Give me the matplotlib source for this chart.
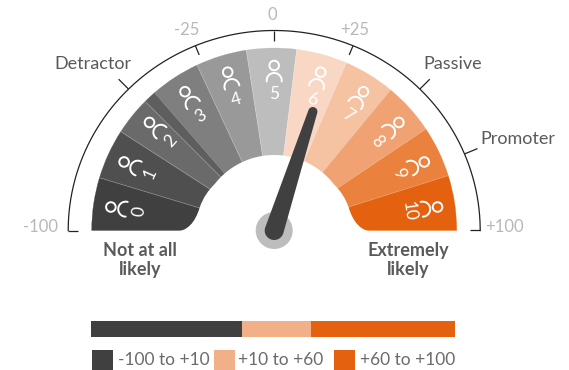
import numpy as np
import matplotlib
matplotlib.use("Agg")
import matplotlib.pyplot as plt
from matplotlib.patches import Wedge, Circle, Polygon, PathPatch, Rectangle
from matplotlib.path import Path

plt.rcParams['font.family'] = ['Lato', 'DejaVu Sans']

# gauge segments, edges in degrees clockwise from the left end
scores = ["0", "1", "2", "3", "4", "5", "6", "7", "8", "9", "10"]
seg_edges = [0, 16.8, 32.8, 45, 49, 65, 81.2, 97.1, 113.3, 129.6, 146.2, 162.5, 180]
seg_colors = ["#404040", "#4f4f4f", "#6a6a6a", "#5e5e5e", "#7f7f7f", "#999999", "#bdbdbd",
              "#f8d8c4", "#f5c2a2", "#f0a273", "#ea823e", "#e3610f"]

# scale around the rim: value, label, tick direction
tick_values = [-100, -50, -25, 0, 25, 50, 75, 100]
tick_labels = ["-100", "Detractor", "-25", "0", "+25", "Passive", "Promoter", "+100"]
needle_value = 20

bar_widths = [151, 69, 144]
bar_colors = ["#404040", "#f2b088", "#e3610f"]
legend_labels = ["-100 to +10", "+10 to +60", "+60 to +100"]

cx, cy = 274.2, 230.5
R_fan, R_hole = 182.5, 75.5
rx_ring, ry_ring = 206, 200
GREY = "#b8b8b8"
DARK = "#5a5a5a"


def polar(r, a):
    a = np.radians(a)
    return cx - r * np.cos(a), cy - r * np.sin(a)


def ring(a, off=0):
    a = np.radians(a)
    return cx - (rx_ring + off) * np.cos(a), cy - (ry_ring + off) * np.sin(a)


def to_angle(v):
    return (v + 100) * 0.9


fig = plt.figure(figsize=(5.69, 3.70), dpi=100)
ax = fig.add_axes([0, 0, 1, 1])
ax.set_xlim(0, 569)
ax.set_ylim(370, 0)
ax.axis("off")

# fan
for i, col in enumerate(seg_colors):
    ax.add_patch(Wedge((cx, cy), R_fan, 180 + seg_edges[i], 180 + seg_edges[i + 1],
                       fc=col, ec=col, lw=0.2, zorder=1))
for k, a in enumerate(seg_edges[1:-1]):
    if k == 3:
        continue
    p0, p1 = polar(R_hole, a), polar(R_fan, a)
    ax.plot([p0[0], p1[0]], [p0[1], p1[1]], color="white", alpha=0.25, lw=0.6, zorder=2)

# white bell shape cut out of the fan
arc_a = np.linspace(38, 142, 60)
arc_pts = [polar(R_hole, a) for a in arc_a]
verts = [(cx - 99, cy + 1), (cx - 87, cy + 1), (cx - 79, cy - 8), (cx - 74.5, cy - 23),
         (cx - 71, cy - 33), (cx - 66, cy - 40), arc_pts[0]]
codes = [Path.MOVETO, Path.CURVE4, Path.CURVE4, Path.CURVE4, Path.CURVE4, Path.CURVE4, Path.CURVE4]
verts += arc_pts[1:]
codes += [Path.LINETO] * (len(arc_pts) - 1)
verts += [(cx + 66, cy - 40), (cx + 71, cy - 33), (cx + 74.5, cy - 23),
          (cx + 79, cy - 8), (cx + 87, cy + 1), (cx + 99, cy + 1)]
codes += [Path.CURVE4] * 6
verts += [(cx - 99, cy + 1)]
codes += [Path.CLOSEPOLY]
ax.add_patch(PathPatch(Path(verts, codes), fc="white", ec="none", zorder=3))

# person icons and score numbers
for i, s in enumerate(scores):
    a = (i + 0.5) * 180 / 11
    ax.add_patch(Circle(polar(165, a), 4.8, fc="none", ec="white", lw=1.4, zorder=4))
    ac = polar(150, a)
    t = np.radians(a) + np.linspace(-1.7, 1.7, 40)
    ax.plot(ac[0] - 7.5 * np.cos(t), ac[1] - 7.5 * np.sin(t), color="white", lw=1.4,
            solid_capstyle="round", zorder=4)
    px, py = polar(136.5, a)
    ax.text(px, py, s, color="white", fontsize=12.5, rotation=90 - a,
            rotation_mode="anchor", ha="center", va="center", zorder=4)

# outer scale
ts = np.linspace(0, 180, 200)
rp = np.array([ring(a) for a in ts])
ax.plot(rp[:, 0], rp[:, 1], color="#222222", lw=0.9, zorder=2)
for v in tick_values:
    a = to_angle(v)
    off = 14 if v in (-50, 50, 75) else -10
    p0, p1 = ring(a), ring(a, off)
    ax.plot([p0[0], p1[0]], [p0[1], p1[1]], color="#222222", lw=0.9, zorder=2,
            solid_capstyle="butt")

label_pos = {"-100": (41, 227), "Detractor": (93, 64), "-25": (187, 30), "0": (272, 15),
             "+25": (355, 30), "Passive": (453, 64), "Promoter": (518, 139), "+100": (504, 227)}
for lab in tick_labels:
    word = lab[0].isalpha()
    ax.text(*label_pos[lab], lab, color=DARK if word else GREY, fontsize=13 if word else 12,
            ha="center", va="center")

# needle
ax.add_patch(Circle((cx, cy), 18.5, fc="#bdbdbd", ec="none", zorder=5))
na = to_angle(needle_value)
tip = polar(125, na)
perp = np.radians(na) + np.linspace(-np.pi / 2, np.pi / 2, 24)
tip_pts = np.c_[tip[0] - 4.6 * np.cos(perp), tip[1] - 4.6 * np.sin(perp)]
base_pts = np.c_[cx - 9.5 * np.cos(perp + np.pi), cy - 9.5 * np.sin(perp + np.pi)]
ax.add_patch(Polygon(np.r_[tip_pts, base_pts], closed=True, fc="#404040", ec="none", zorder=6))

# end captions
ax.text(140, 260, "Not at all\nlikely", color=DARK, fontsize=13, fontweight="bold",
        ha="center", va="center", linespacing=1.1)
ax.text(408, 260, "Extremely\nlikely", color=DARK, fontsize=13, fontweight="bold",
        ha="center", va="center", linespacing=1.1)

# stacked bar
left = 91
for w, c in zip(bar_widths, bar_colors):
    ax.barh(328.7, w, height=16, left=left, color=c, zorder=1)
    left += w

# legend
swatch_x = [92, 214, 334]
text_x = [118, 238, 360]
for x, tx, lab, c in zip(swatch_x, text_x, legend_labels, bar_colors):
    ax.add_patch(Rectangle((x, 350), 21, 20, fc=c, ec="none"))
    ax.text(tx, 360, lab, color="#6b6b6b", fontsize=12.5, ha="left", va="center")

fig.savefig("out.png", dpi=100)
